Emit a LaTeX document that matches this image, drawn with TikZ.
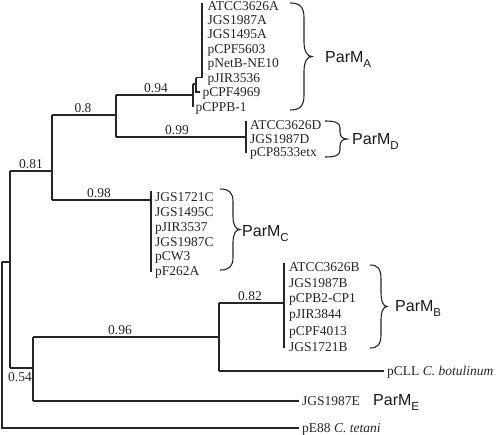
\documentclass[tikz,border=0pt]{standalone}
\usepackage{fontspec}
\setmainfont{Liberation Serif}
\setsansfont{Liberation Sans}
\newcommand{\parmlabel}[1]{ParM\raisebox{-0.3em}{\fontsize{11.5}{12}\selectfont #1}}
\newcommand{\cbrace}[6]{% #1 xe, #2 yt, #3 yb, #4 xs, #5 xt, #6 c
\draw[brc] (#1,#2) .. controls ({#1+0.7*(#4-#1)},#2) and ({#4},{#2+0.25*#6}) .. ({#4},{#2+#6})
 -- ({#4},{(#2+#3)/2-#6}) .. controls ({#4},{(#2+#3)/2-0.35*#6}) and ({#4+0.4*(#5-#4)},{(#2+#3)/2}) .. ({#5},{(#2+#3)/2})
 .. controls ({#4+0.4*(#5-#4)},{(#2+#3)/2}) and ({#4},{(#2+#3)/2+0.35*#6}) .. ({#4},{(#2+#3)/2+#6})
 -- ({#4},{#3-#6}) .. controls ({#4},{#3-0.25*#6}) and ({#1+0.7*(#4-#1)},#3) .. (#1,#3);}
\begin{document}
\begin{tikzpicture}[x=1pt,y=-1pt,
  br/.style={line width=1.2pt, draw=black!85},
  brc/.style={line width=1.1pt, draw=black!85},
  leaf/.style={anchor=west, inner xsep=0pt, inner ysep=0pt, text height=9pt, text depth=0pt,
    font=\fontsize{13.5}{14}\selectfont, text=black!85},
  bs/.style={above, inner sep=1.8pt, font=\fontsize{13.5}{14}\selectfont, text=black!85},
  grp/.style={anchor=west, inner sep=0pt, text height=11pt, text depth=0pt,
    font=\fontsize{16}{17}\sffamily, text=black!90}
]
\useasboundingbox (0,0) rectangle (500,434);
% internal nodes (attachment points)
\coordinate (root) at (2,262);
\coordinate (n1) at (10,262);
\coordinate (n2) at (52,171);
\coordinate (n3) at (116,115);
\coordinate (a0) at (193,95);
\coordinate (a1) at (196,84);
\coordinate (a2) at (202,77.5);
\coordinate (a2top) at (202,3);
\coordinate (d) at (246,137);
\coordinate (dtop) at (246,121);
\coordinate (dbot) at (246,153);
\coordinate (c) at (151,200);
\coordinate (ctop) at (151,191);
\coordinate (cbot) at (151,272);
\coordinate (n4) at (33,368);
\coordinate (n5) at (219,337);
\coordinate (b) at (284,303);
\coordinate (btop) at (284,263);
\coordinate (bbot) at (284,348);
% leaves ParM_A
\node[leaf] (la1) at (207.5,5.5) {ATCC3626A};
\node[leaf] (la2) at (207.5,19.5) {JGS1987A};
\node[leaf] (la3) at (207.5,34) {JGS1495A};
\node[leaf] (la4) at (207.5,48.5) {pCPF5603};
\node[leaf] (la5) at (207.5,63) {pNetB-NE10};
\node[leaf] (la6) at (207.5,77.5) {pJIR3536};
\node[leaf] (la7) at (202.5,92) {pCPF4969};
\node[leaf] (la8) at (195.5,107) {pCPPB-1};
% leaves ParM_D
\node[leaf] (ld1) at (250,125) {ATCC3626D};
\node[leaf] (ld2) at (250,138.5) {JGS1987D};
\node[leaf] (ld3) at (250,152) {pCP8533etx};
% leaves ParM_C
\node[leaf] (lc1) at (155,197) {JGS1721C};
\node[leaf] (lc2) at (155,212) {JGS1495C};
\node[leaf] (lc3) at (155,227) {pJIR3537};
\node[leaf] (lc4) at (155,241.5) {JGS1987C};
\node[leaf] (lc5) at (155,256) {pCW3};
\node[leaf] (lc6) at (155,271) {pF262A};
% leaves ParM_B
\node[leaf] (lb1) at (289,267) {ATCC3626B};
\node[leaf] (lb2) at (289,282.5) {JGS1987B};
\node[leaf] (lb3) at (289,298) {pCPB2-CP1};
\node[leaf] (lb4) at (289,314) {pJIR3844};
\node[leaf] (lb5) at (289,330.5) {pCPF4013};
\node[leaf] (lb6) at (289,347) {JGS1721B};
% other leaves
\node[leaf, inner xsep=3pt] (pcll) at (384,371) {pCLL \textit{C. botulinum}};
\node[leaf, inner xsep=3pt] (e) at (299,401) {JGS1987E};
\node[leaf, inner xsep=3pt] (pe) at (299,428) {pE88 \textit{C. tetani}};
% tree
\draw[br] (root) -- (n1);
\draw[br] (root) -- (root |- pe.west) -- (pe.west);
\draw[br] (n1 |- n2) -- (n1 |- n4);
\draw[br] (n1 |- n2) -- (n2);
\draw[br] (n1 |- n4) -- (n4);
\draw[br] (n2 |- n3) -- (n2 |- c);
\draw[br] (n2 |- n3) -- (n3);
\draw[br] (n2 |- c) -- (c);
\draw[br] (n3 |- a0) -- (n3 |- d);
\draw[br] (n3 |- a0) -- (a0);
\draw[br] (n3 |- d) -- (d);
\draw[br] (a0 |- a1) -- (a0 |- la8.west);
\draw[br] (a0 |- a1) -- (a1);
\draw[br] (a1 |- a2) -- (a1 |- la7.west) -- ([xshift=-3pt]la7.west);
\draw[br] (a1 |- a2) -- (a2);
\draw[br] (a2top) -- (a2);
\draw[br] (dtop) -- (dbot);
\draw[br] (ctop) -- (cbot);
\draw[br] (n4 |- n5) -- (n4 |- e.west);
\draw[br] (n4 |- n5) -- (n5);
\draw[br] (n4 |- e.west) -- (e.west);
\draw[br] (n5 |- b) -- (n5 |- pcll.west);
\draw[br] (n5 |- b) -- (b);
\draw[br] (n5 |- pcll.west) -- (pcll.west);
\draw[br] (btop) -- (bbot);
% support values
\node[bs] (s81) at (31,171) {0.81};
\node[bs] (s80) at (83,115) {0.8};
\node[bs] (s94) at (156,95) {0.94};
\node[bs] (s99) at (177,137) {0.99};
\node[bs] (s98) at (99,200) {0.98};
\node[bs] (s96) at (120,337) {0.96};
\node[bs] (s82) at (250,303) {0.82};
\node[leaf, anchor=east] (s54) at (32,377) {0.54};
% braces and group labels
\cbrace{290}{3}{110}{304}{312}{15}
\cbrace{325}{121}{157}{340}{347}{7}
\cbrace{220}{189}{270}{233}{240}{13}
\cbrace{370}{265}{348}{381}{387}{14}
\node[grp] (gA) at (325,57) {\parmlabel{A}};
\node[grp] (gD) at (352,139) {\parmlabel{D}};
\node[grp] (gC) at (242,231) {\parmlabel{C}};
\node[grp] (gB) at (395,306) {\parmlabel{B}};
\node[grp] (gE) at (373,400) {\parmlabel{E}};
\end{tikzpicture}
\end{document}
